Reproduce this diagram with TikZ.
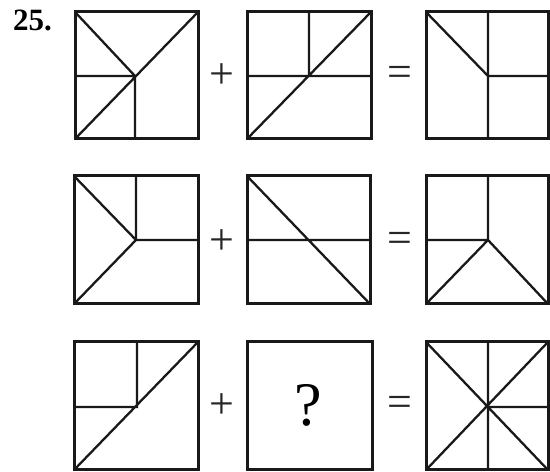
\documentclass[tikz,border=0pt]{standalone}
\usepackage{fontspec}
\setmainfont{Liberation Serif}
\begin{document}
\begin{tikzpicture}[x=1pt,y=1pt,
  frame/.style={line width=3pt, line join=miter, draw=black!90},
  inner/.style={line width=2.3pt, draw=black!90},
  op/.style={inner sep=0pt, font=\fontsize{44}{44}\selectfont, text=black!85},
  lbl/.style={inner sep=0pt, font=\fontsize{31}{31}\selectfont\bfseries}]
\useasboundingbox (0,0) rectangle (550,472);
\node[lbl, anchor=base west] (num) at (13,441) {25.};
% ===== Row 1 =====
\coordinate (a1tl) at (75,460); \coordinate (a1br) at (198,333);
\coordinate (a1bl) at (75,333); \coordinate (a1tr) at (198,460);
\coordinate (a1c) at (135,396); \coordinate (a1l) at (75,396); \coordinate (a1b) at (135,333);
\draw[inner] (a1tl) -- (a1c) (a1l) -- (a1c) -- (a1b) (a1bl) -- (a1tr);
\draw[frame] (a1tl) rectangle (a1br);
\node[op] (p1) at (222,396) {+};
\coordinate (b1tl) at (247,460); \coordinate (b1br) at (371,333);
\coordinate (b1bl) at (247,333); \coordinate (b1tr) at (371,460);
\coordinate (b1t) at (309,460); \coordinate (b1c) at (309,396);
\coordinate (b1l) at (247,396); \coordinate (b1r) at (371,396);
\draw[inner] (b1t) -- (b1c) (b1l) -- (b1r) (b1bl) -- (b1tr);
\draw[frame] (b1tl) rectangle (b1br);
\node[op] (e1) at (400,396) {=};
\coordinate (c1tl) at (426,460); \coordinate (c1br) at (548,333);
\coordinate (c1t) at (488,460); \coordinate (c1b) at (488,333);
\coordinate (c1c) at (488,396); \coordinate (c1r) at (548,396);
\draw[inner] (c1tl) -- (c1c) (c1t) -- (c1b) (c1c) -- (c1r);
\draw[frame] (c1tl) rectangle (c1br);
% ===== Row 2 =====
\coordinate (a2tl) at (74,296); \coordinate (a2br) at (198,168);
\coordinate (a2bl) at (74,168); \coordinate (a2t) at (136,296);
\coordinate (a2c) at (136,232); \coordinate (a2r) at (198,232);
\draw[inner] (a2tl) -- (a2c) -- (a2bl) (a2t) -- (a2c) -- (a2r);
\draw[frame] (a2tl) rectangle (a2br);
\node[op] (p2) at (222,230) {+};
\coordinate (b2tl) at (247,296); \coordinate (b2br) at (370,168);
\coordinate (b2l) at (247,232); \coordinate (b2r) at (370,232);
\draw[inner] (b2tl) -- (b2br) (b2l) -- (b2r);
\draw[frame] (b2tl) rectangle (b2br);
\node[op] (e2) at (400,230) {=};
\coordinate (c2tl) at (426,296); \coordinate (c2br) at (548,168);
\coordinate (c2bl) at (426,168); \coordinate (c2t) at (488,296);
\coordinate (c2c) at (488,232); \coordinate (c2l) at (426,232);
\draw[inner] (c2t) -- (c2c) (c2l) -- (c2c) (c2bl) -- (c2c) -- (c2br);
\draw[frame] (c2tl) rectangle (c2br);
% ===== Row 3 =====
\coordinate (a3tl) at (74,130); \coordinate (a3br) at (198,2);
\coordinate (a3bl) at (74,2); \coordinate (a3tr) at (198,130);
\coordinate (a3t) at (137,130); \coordinate (a3c) at (137,65); \coordinate (a3l) at (74,65);
\draw[inner] (a3t) -- (a3c) -- (a3l) (a3bl) -- (a3tr);
\draw[frame] (a3tl) rectangle (a3br);
\node[op] (p3) at (222,66) {+};
\coordinate (b3tl) at (247,130); \coordinate (b3br) at (372,2);
\draw[frame] (b3tl) rectangle (b3br);
\node[inner sep=0pt, font=\fontsize{62}{62}\selectfont] (q) at (308,67) {?};
\node[op] (e3) at (400,66) {=};
\coordinate (c3tl) at (426,130); \coordinate (c3br) at (548,2);
\coordinate (c3bl) at (426,2); \coordinate (c3tr) at (548,130);
\coordinate (c3t) at (488,130); \coordinate (c3b) at (488,2);
\coordinate (c3c) at (488,65); \coordinate (c3r) at (548,65);
\draw[inner] (c3tl) -- (c3br) (c3bl) -- (c3tr) (c3t) -- (c3b) (c3c) -- (c3r);
\draw[frame] (c3tl) rectangle (c3br);
\end{tikzpicture}
\end{document}
